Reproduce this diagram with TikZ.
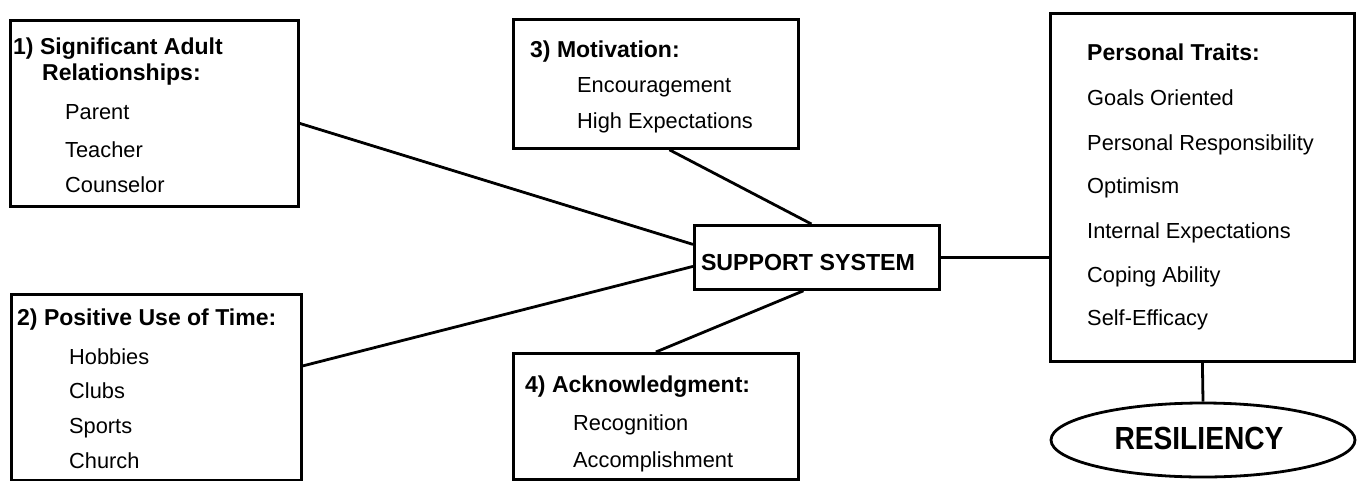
\documentclass[tikz,border=0pt]{standalone}
\usepackage{fontspec}
\setmainfont{Liberation Sans}
\usetikzlibrary{shapes.geometric}
\begin{document}
\begin{tikzpicture}[x=1pt,y=-1pt,
  box/.style={draw, line width=2.8pt, rectangle, inner sep=0pt, anchor=north west},
  txt/.style={anchor=base west, inner sep=0pt, font=\fontsize{21.8}{24}\selectfont},
  hd/.style={anchor=base west, inner sep=0pt, font=\bfseries\fontsize{23}{26}\selectfont},
  link/.style={line width=2.8pt}]
\useasboundingbox (0,0) rectangle (1359,480);

% frames
\node[box, minimum width=288pt, minimum height=186pt] (b1) at (9,19) {};
\node[box, minimum width=290pt, minimum height=186pt] (b2) at (10,293) {};
\node[box, minimum width=285pt, minimum height=129pt] (b3) at (512,18) {};
\node[box, minimum width=285pt, minimum height=126pt] (b4) at (512,352) {};
\node[box, minimum width=245pt, minimum height=64pt] (sup) at (693,224) {};
\node[box, minimum width=304pt, minimum height=348pt] (pt) at (1049,12) {};
\node[draw, ellipse, line width=2.8pt, minimum width=304pt, minimum height=74pt, inner sep=0pt]
  (res) at (1203,440) {};

% connectors
\draw[link] ([yshift=-10pt]b1.east) -- ([yshift=13pt]sup.west);
\draw[link] ([yshift=21.5pt]b2.east) -- ([yshift=-9pt]sup.west);
\draw[link] ([xshift=13.5pt]b3.south) -- ([xshift=-5.5pt]sup.north);
\draw[link] (b4.north) -- ([xshift=-13.5pt]sup.south);
\draw[link] (sup.east) -- (sup.east -| pt.west);
\draw[link] (pt.south) -- (res.north);

% box 1
\node[hd] (h1a) at (13,54) {1) Significant Adult};
\node[hd] (h1b) at (42,80) {Relationships:};
\node[txt] (i1a) at (65,119) {Parent};
\node[txt] (i1b) at (65,157) {Teacher};
\node[txt] (i1c) at (65,192) {Counselor};

% box 2
\node[hd] (h2) at (17,325) {2) Positive Use of Time:};
\node[txt] (i2a) at (69,364) {Hobbies};
\node[txt] (i2b) at (69,398) {Clubs};
\node[txt] (i2c) at (69,433) {Sports};
\node[txt] (i2d) at (69,468) {Church};

% box 3
\node[hd] (h3) at (530,57) {3) Motivation:};
\node[txt] (i3a) at (577,92) {Encouragement};
\node[txt] (i3b) at (577,128) {High Expectations};

% box 4
\node[hd] (h4) at (525,392) {4) Acknowledgment:};
\node[txt] (i4a) at (573,430) {Recognition};
\node[txt] (i4b) at (573,467) {Accomplishment};

% centre
\node[anchor=base, inner sep=0pt, font=\bfseries\fontsize{23.2}{26}\selectfont]
  (supt) at (808,270) {SUPPORT SYSTEM};

% personal traits
\node[hd] (hp) at (1087,60) {Personal Traits:};
\node[txt] (p1) at (1087,105) {Goals Oriented};
\node[txt] (p2) at (1087,150) {Personal Responsibility};
\node[txt] (p3) at (1087,193) {Optimism};
\node[txt] (p4) at (1087,238) {Internal Expectations};
\node[txt] (p5) at (1087,282) {Coping Ability};
\node[txt] (p6) at (1087,325) {Self-Efficacy};

% outcome
\node[anchor=base, inner sep=0pt, font=\bfseries\fontsize{32}{36}\selectfont]
  (rest) at (1199,449) {\scalebox{0.88}[1]{RESILIENCY}};
\end{tikzpicture}
\end{document}
